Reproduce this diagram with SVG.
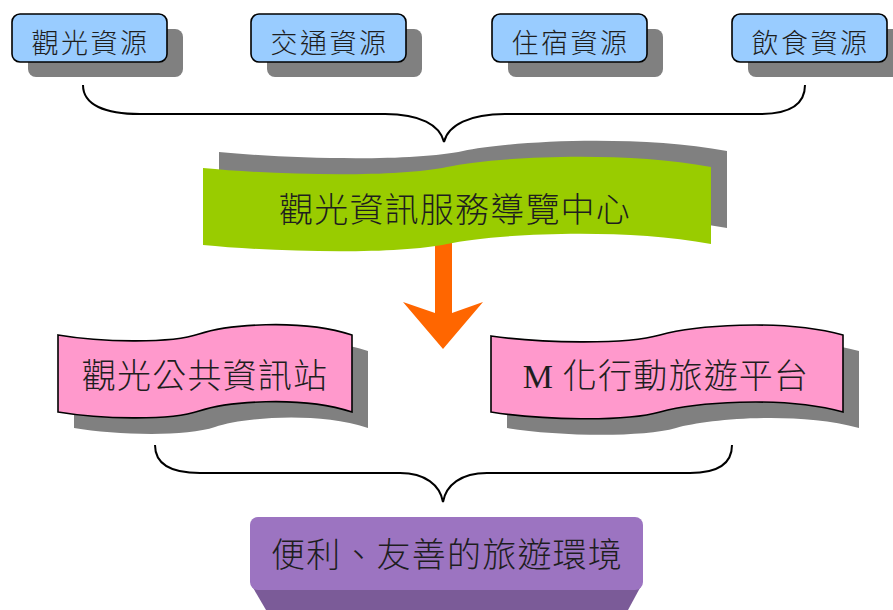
<svg xmlns="http://www.w3.org/2000/svg" width="893" height="610" viewBox="0 0 893 610">
<style>
.txt{font-family:"Noto Sans CJK TC","Noto Sans CJK SC",sans-serif;fill:#1e1e1e;text-anchor:middle;font-weight:300}
.sm{font-size:27px;letter-spacing:2.5px}
.lg{font-size:34px;letter-spacing:1.2px}
.box{fill:#99ccff;stroke:#000;stroke-width:1.6}
.shadow{fill:#808080}
.pink{fill:#ff99cc;stroke:#000;stroke-width:1.6}
.brace{fill:none;stroke:#000;stroke-width:2}
</style>
<defs>
<path id="waveL" d="M58,335 C99,342 170,344 199,334 C226,325 299,318 352,335 L352,412 C299,395 226,402 199,411 C170,421 99,419 58,412 Z"/>
<path id="waveR" d="M491,336 C540,343 625,345 660,335 C692,326 780,318 843,335 L843,412 C780,395 692,403 660,412 C625,422 540,420 491,412 Z"/>
<path id="waveG" d="M203,168 C274,175 396,178 447,167 C493,157 620,150 711,167 L711,244 C620,227 493,234 447,244 C396,255 274,252 203,245 Z"/>
</defs>
<g id="connectors">
<path class="brace" d="M83,85 C83,105 105,114 140,114 L385,114 C420,114 440,125 444,142 C448,125 470,114 505,114 L760,114 C790,114 805,105 805,85"/>
<path class="brace" d="M155,445 C155,465 172,473 200,473 L400,473 C425,473 440,485 443,502 C446,485 461,473 487,473 L690,473 C715,473 732,465 732,445"/>
<polygon id="arrow" fill="#ff6600" points="435,240 452,240 452,313 483,302 443,349 403,302 435,313"/>
</g>
<g id="node-tour">
<rect class="shadow" x="28" y="29" width="155" height="48" rx="8"/>
<rect class="box" x="12" y="14" width="155" height="48" rx="8"/>
<text class="txt sm" x="90.5" y="53">觀光資源</text>
</g>
<g id="node-traffic">
<rect class="shadow" x="267" y="29" width="155" height="48" rx="8"/>
<rect class="box" x="251" y="14" width="155" height="48" rx="8"/>
<text class="txt sm" x="329.5" y="53">交通資源</text>
</g>
<g id="node-lodging">
<rect class="shadow" x="508" y="29" width="155" height="48" rx="8"/>
<rect class="box" x="492" y="14" width="155" height="48" rx="8"/>
<text class="txt sm" x="570.5" y="53">住宿資源</text>
</g>
<g id="node-food">
<rect class="shadow" x="748" y="29" width="155" height="48" rx="8"/>
<rect class="box" x="732" y="14" width="155" height="48" rx="8"/>
<text class="txt sm" x="810.5" y="53">飲食資源</text>
</g>
<g id="node-center">
<use href="#waveG" class="shadow" transform="translate(16,-16)"/>
<use href="#waveG" fill="#99cc00"/>
<text class="txt lg" x="455" y="222">觀光資訊服務導覽中心</text>
</g>
<g id="node-kiosk">
<use href="#waveL" class="shadow" stroke="none" transform="translate(16,16)"/>
<use href="#waveL" class="pink"/>
<text class="txt lg" x="205" y="388">觀光公共資訊站</text>
</g>
<g id="node-mobile">
<use href="#waveR" class="shadow" stroke="none" transform="translate(16,16)"/>
<use href="#waveR" class="pink"/>
<text class="txt lg" x="666" y="388"><tspan font-family="Liberation Serif,serif" font-weight="normal">M</tspan> 化行動旅遊平台</text>
</g>
<g id="node-env">
<polygon fill="#7b5b98" points="252,586 641,586 628,610 266,610"/>
<rect x="250" y="517" width="393" height="73" rx="8" fill="#9c74c1"/>
<text class="txt lg" x="447" y="567">便利、友善的旅遊環境</text>
</g>
</svg>
